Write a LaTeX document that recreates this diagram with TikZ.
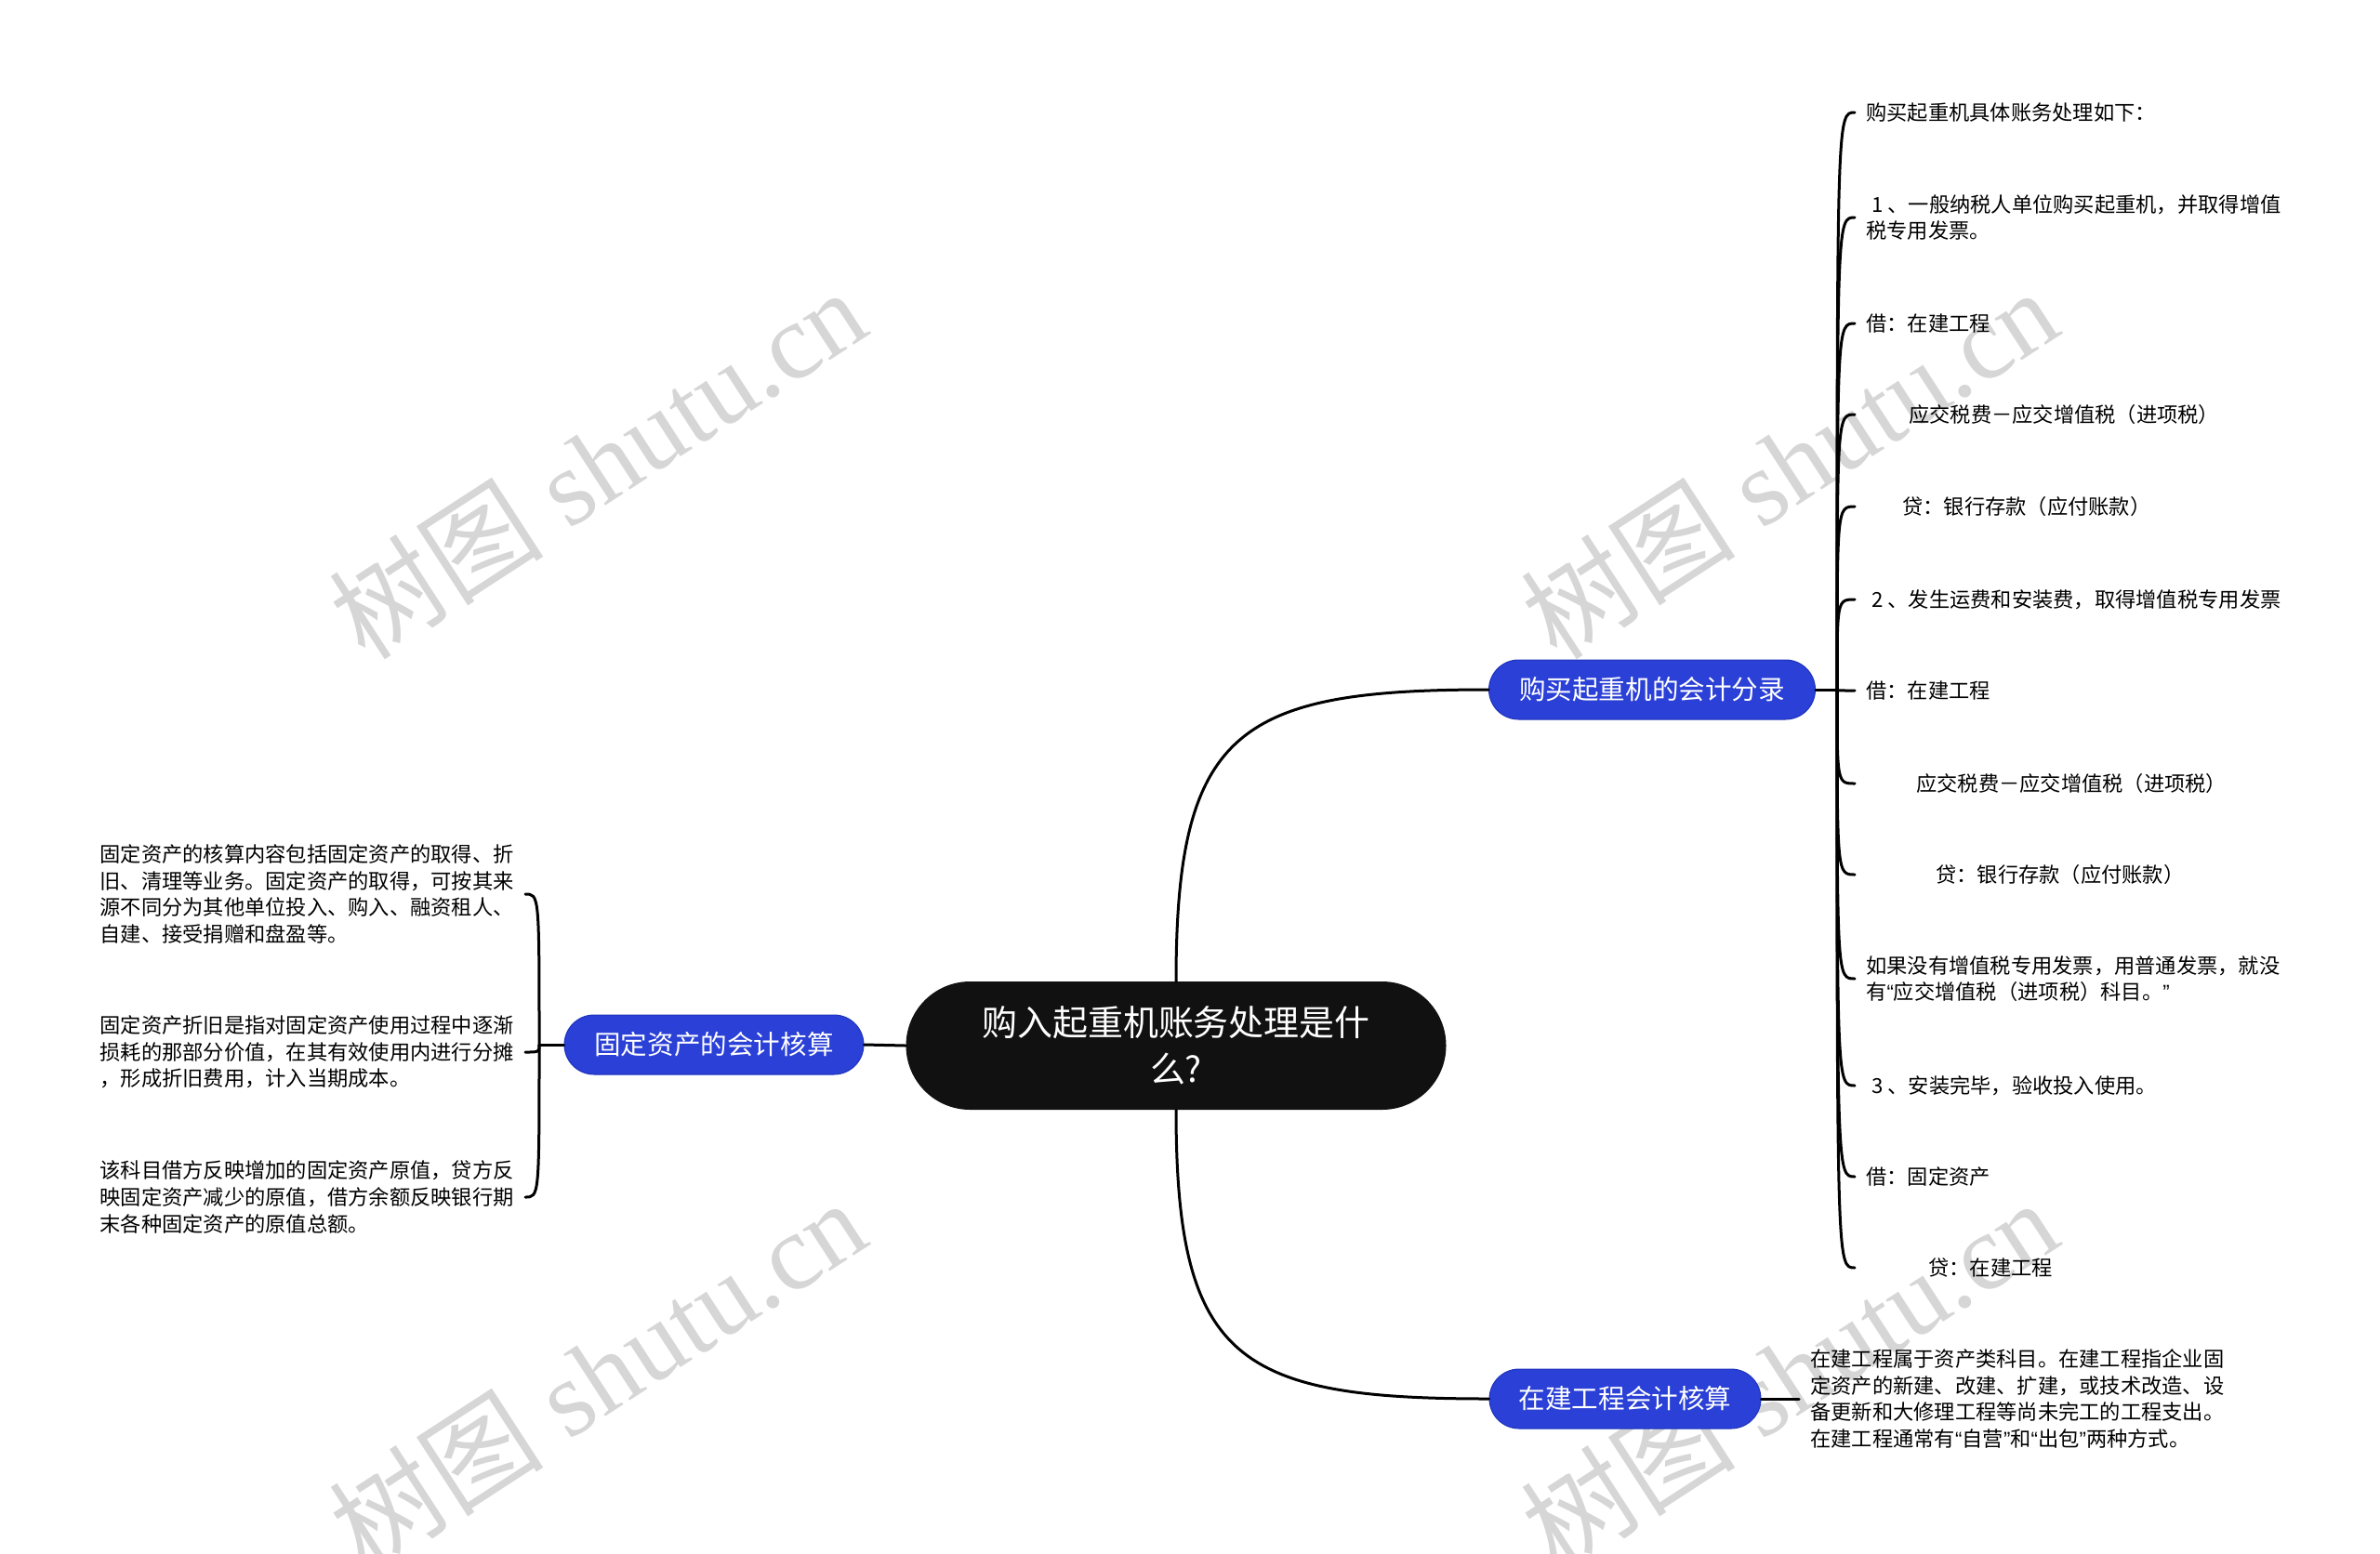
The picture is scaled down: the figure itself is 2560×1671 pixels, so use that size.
\documentclass[tikz,border=0pt]{standalone}
\usepackage{fontspec}
\usepackage{tikz}
\newfontfamily\cjk{Noto Sans CJK SC}
\newfontfamily\wmfont{Liberation Serif}
\newfontfamily\quotefont{Liberation Sans}
\newcommand\oq{{\quotefont “}}
\newcommand\cq{{\quotefont ”}}
\definecolor{topicblue}{HTML}{2A40D6}
\definecolor{topicedge}{HTML}{1E33BC}
\definecolor{rootblack}{HTML}{111111}
\definecolor{markgray}{HTML}{D6D6D6}

\tikzset{
  root/.style={fill=rootblack, text=white, align=center, rounded corners=20.7mm,
    minimum width=174.3mm, minimum height=41.4mm,
    font=\cjk\fontsize{32.4}{43}\selectfont},
  topic/.style={fill=topicblue, draw=topicedge, line width=0.3mm, text=white,
    rounded corners=9.6mm, minimum height=19.2mm,
    font=\cjk\fontsize{24.4}{30}\selectfont},
  leaf/.style={align=left, inner xsep=3.6mm, inner ysep=0pt,
    font=\cjk\fontsize{19}{24.4}\selectfont},
  link/.style={line width=0.9mm, line cap=round},
  watermark/.style={text=markgray, rotate=33, font=\wmfont\fontsize{99}{99}\selectfont},
}

\begin{document}
\begin{tikzpicture}[x=0.3mm, y=-0.3mm]
    \clip (0,0) rectangle (2560,1671);
    % watermarks
    \foreach \wx/\wy in {642/498, 1924/498, 642/1478, 1924/1478}
      \node[watermark] at (\wx,\wy) {{\cjk 树图} shutu.cn};

    % centre and topics
    \node[root] (main) at (1265,1125) {购入起重机账务处理是什\\么?};
    \node[topic, minimum width=105.3mm] (buy) at (1777,742) {购买起重机的会计分录};
    \node[topic, minimum width=96.6mm] (fixed) at (768,1124) {固定资产的会计核算};
    \node[topic, minimum width=87.6mm] (build) at (1748,1505) {在建工程会计核算};

    \draw[link] (main.north) .. controls +(0,-270) and +(-270,0) .. (buy.west);
    \draw[link] (main.south) .. controls +(0,270) and +(-270,0) .. (build.west);
    \draw[link] (main.west) -- (fixed.east);

    % entries of the purchase
    \node[leaf, anchor=west] (r1) at (1995,121) {购买起重机具体账务处理如下：};
    \node[leaf, anchor=west] (r2) at (1995,234) {\hspace*{1.8mm}1 、一般纳税人单位购买起重机，并取得增值\\税专用发票。};
    \node[leaf, anchor=west] (r3) at (1995,348) {借：在建工程};
    \node[leaf, anchor=west] (r4) at (1995,446) {\hspace*{13.8mm}应交税费－应交增值税（进项税）};
    \node[leaf, anchor=west] (r5) at (1995,545) {\hspace*{11.7mm}贷：银行存款（应付账款）};
    \node[leaf, anchor=west] (r6) at (1995,645) {\hspace*{1.8mm}2 、发生运费和安装费，取得增值税专用发票};
    \node[leaf, anchor=west] (r7) at (1995,743) {借：在建工程};
    \node[leaf, anchor=west] (r8) at (1995,843) {\hspace*{16.2mm}应交税费－应交增值税（进项税）};
    \node[leaf, anchor=west] (r9) at (1995,941) {\hspace*{22.5mm}贷：银行存款（应付账款）};
    \node[leaf, anchor=west] (r10) at (1995,1053) {如果没有增值税专用发票，用普通发票，就没\\有\oq 应交增值税（进项税）科目。\cq};
    \node[leaf, anchor=west] (r11) at (1995,1168) {\hspace*{1.8mm}3 、安装完毕，验收投入使用。};
    \node[leaf, anchor=west] (r12) at (1995,1266) {借：固定资产};
    \node[leaf, anchor=west] (r13) at (1995,1364) {\hspace*{20.1mm}贷：在建工程};

    \coordinate (jbuy) at (1976,742);
    \draw[link] (buy.east) -- (jbuy);
    \foreach \n in {1,...,13}
      \draw[link] (jbuy) .. controls (jbuy |- r\n.west) .. (r\n.west);

    % fixed assets
    \node[leaf, anchor=east] (l1) at (565,962) {固定资产的核算内容包括固定资产的取得、折\\旧、清理等业务。固定资产的取得，可按其来\\源不同分为其他单位投入、购入、融资租人、\\自建、接受捐赠和盘盈等。};
    \node[leaf, anchor=east] (l2) at (565,1132) {固定资产折旧是指对固定资产使用过程中逐渐\\损耗的那部分价值，在其有效使用内进行分摊\\，形成折旧费用，计入当期成本。};
    \node[leaf, anchor=east] (l3) at (565,1288) {该科目借方反映增加的固定资产原值，贷方反\\映固定资产减少的原值，借方余额反映银行期\\末各种固定资产的原值总额。};

    \coordinate (jfix) at (580,1124);
    \draw[link] (fixed.west) -- (jfix);
    \foreach \n in {1,2,3}
      \draw[link] (jfix) .. controls (jfix |- l\n.east) .. (l\n.east);

    % construction in progress
    \node[leaf, anchor=west] (cw) at (1935,1505) {在建工程属于资产类科目。在建工程指企业固\\定资产的新建、改建、扩建，或技术改造、设\\备更新和大修理工程等尚未完工的工程支出。\\在建工程通常有\oq 自营\cq 和\oq 出包\cq 两种方式。};
    \draw[link] (build.east) -- (cw.west);
\end{tikzpicture}
\end{document}
